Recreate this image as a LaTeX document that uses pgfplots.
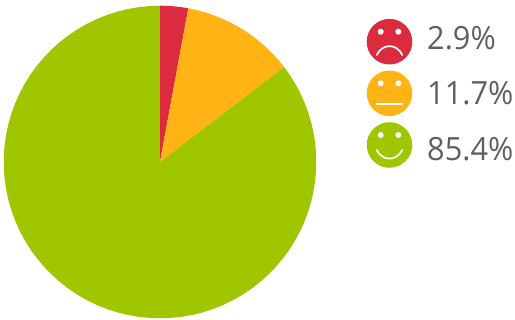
\documentclass[border=0pt]{standalone}
\usepackage{fontspec}
\setmainfont[FakeStretch=0.96]{Open Sans}
\usepackage{pgfplots}
\pgfplotsset{compat=1.18}
\usepgfplotslibrary{polar}
\definecolor{sadred}{HTML}{DC2B3F}
\definecolor{midorange}{HTML}{FFB315}
\definecolor{happygreen}{HTML}{A0C600}
\definecolor{labelgrey}{HTML}{5F5F5F}
% One legend entry: disc, two eyes and a mouth path given in local pt offsets,
% followed by its label on a baseline of its own.
\newcommand{\face}[5]{%
  \fill[#2] (389.5pt,#1) circle (22.8pt);
  \begin{scope}[shift={(389.5pt,#1)}]
    \fill[white] (-8.8pt,10pt) circle (3pt);
    \fill[white] (8.8pt,10pt) circle (3pt);
    \draw[white,line width=1.7pt,line cap=round] #3;
  \end{scope}
  \node[anchor=base west,inner sep=0pt,text=labelgrey,font=\fontsize{32}{32}\selectfont]
    at (427pt,#5) {#4};
}
\begin{document}
\begin{tikzpicture}[x=1pt,y=1pt]
\path (0pt,0pt) rectangle (515pt,320pt);
\begin{polaraxis}[
  at={(160pt,158pt)}, anchor=center,
  scale only axis, width=312.6pt, height=312.6pt,
  ymin=0, ymax=1, hide axis, clip=false,
]
% Share 2.9 %: clockwise from the top
\addplot[draw=none,fill=sadred] coordinates {
 (90,0) (90,1) (88,1) (86,1) (84,1) (82,1) (79.56,1)} -- cycle;
% Share 11.7 %
\addplot[draw=none,fill=midorange] coordinates {
 (79.56,0) (79.56,1) (76,1) (72,1) (68,1) (64,1) (60,1) (56,1) (52,1) (48,1) (44,1) (40,1) (37.44,1)} -- cycle;
% Share 85.4 %: remainder of the disc
\addplot[draw=none,fill=happygreen] coordinates {
 (37.44,0) (37.44,1) (34,1) (30,1) (26,1) (22,1) (18,1) (14,1) (10,1) (6,1) (2,1)
 (-2,1) (-6,1) (-10,1) (-14,1) (-18,1) (-22,1) (-26,1) (-30,1) (-34,1) (-38,1)
 (-42,1) (-46,1) (-50,1) (-54,1) (-58,1) (-62,1) (-66,1) (-70,1) (-74,1) (-78,1)
 (-82,1) (-86,1) (-90,1) (-94,1) (-98,1) (-102,1) (-106,1) (-110,1) (-114,1) (-118,1)
 (-122,1) (-126,1) (-130,1) (-134,1) (-138,1) (-142,1) (-146,1) (-150,1) (-154,1) (-158,1)
 (-162,1) (-166,1) (-170,1) (-174,1) (-178,1) (-182,1) (-186,1) (-190,1) (-194,1) (-198,1)
 (-202,1) (-206,1) (-210,1) (-214,1) (-218,1) (-222,1) (-226,1) (-230,1) (-234,1) (-238,1)
 (-242,1) (-246,1) (-250,1) (-254,1) (-258,1) (-262,1) (-266,1) (-270,1)} -- cycle;
\end{polaraxis}
\face{278.3pt}{sadred}{(-12.8pt,-13.3pt) .. controls (-7pt,-1.5pt) and (7pt,-1.5pt) .. (12.8pt,-13.3pt)}{2.9\%}{270.5pt}
\face{226.7pt}{midorange}{(-12.8pt,-10.7pt) -- (12.8pt,-10.7pt)}{11.7\%}{215pt}
\face{175pt}{happygreen}{(-12.8pt,-5pt) .. controls (-7pt,-16.5pt) and (7pt,-16.5pt) .. (12.8pt,-5pt)}{85.4\%}{159pt}
\end{tikzpicture}
\end{document}
